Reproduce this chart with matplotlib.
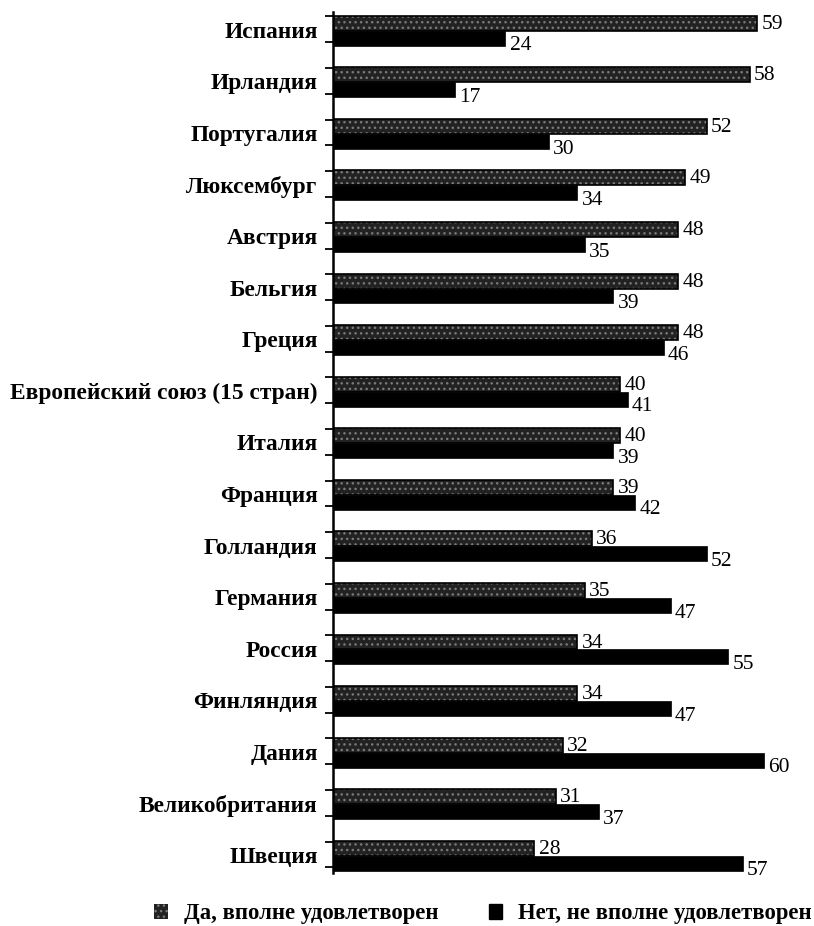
import matplotlib
matplotlib.use("Agg")
import matplotlib.pyplot as plt
from matplotlib.patches import Patch
import numpy as np

countries = ["Испания", "Ирландия", "Португалия", "Люксембург", "Австрия", "Бельгия",
             "Греция", "Европейский союз (15 стран)", "Италия", "Франция", "Голландия",
             "Германия", "Россия", "Финляндия", "Дания", "Великобритания", "Швеция"]
yes_vals = [59, 58, 52, 49, 48, 48, 48, 40, 40, 39, 36, 35, 34, 34, 32, 31, 28]
no_vals = [24, 17, 30, 34, 35, 39, 46, 41, 39, 42, 52, 47, 55, 47, 60, 37, 57]
legend_labels = ["Да, вполне удовлетворен", "Нет, не вполне удовлетворен"]

plt.rcParams['font.family'] = ['Liberation Serif', 'DejaVu Serif']

fig = plt.figure(figsize=(8.14, 9.26), dpi=100)
ax = fig.add_axes([0.409, 0.0572, 0.574, 0.930])

y = np.arange(len(countries))
h = 0.29
yes_c = y - 0.13
no_c = y + 0.16

yes_face = '#222222'
yes_hatch = '#7a7a7a'
ax.barh(yes_c, yes_vals, height=h, color=yes_face, edgecolor=yes_hatch,
        hatch='...', linewidth=0)
ax.barh(yes_c, yes_vals, height=h, fill=False, edgecolor='black', linewidth=1.2)
ax.barh(no_c, no_vals, height=h, color='black', edgecolor='black', linewidth=0.5)

for yc, v in zip(yes_c, yes_vals):
    ax.text(v + 0.6, yc + 0.02, str(v), va='center', ha='left', fontsize=15.5)
for yc, v in zip(no_c, no_vals):
    ax.text(v + 0.6, yc + 0.15, str(v), va='center', ha='left', fontsize=15.5)

ax.set_xlim(0, 65)
ax.set_ylim(len(countries) - 0.65, -0.35)
ax.set_yticks(y)
ax.set_yticklabels(countries, fontsize=16.8, fontweight='bold')
ax.tick_params(axis='y', length=0, pad=11)
ax.set_yticks(np.concatenate([y - 0.26, y + 0.24]), minor=True)
ax.tick_params(axis='y', which='minor', length=6, width=1.3, direction='out')
ax.set_xticks([])
for s in ['top', 'right', 'bottom']:
    ax.spines[s].set_visible(False)
ax.spines['left'].set_linewidth(1.8)

handles = [Patch(facecolor=yes_face, edgecolor=yes_hatch, hatch='...', linewidth=0),
           Patch(facecolor='black', edgecolor='black')]
leg = fig.legend(handles, legend_labels, loc='center left',
                 bbox_to_anchor=(143 / 814, 0.013), ncol=2, frameon=False,
                 handlelength=0.6, handleheight=0.6, borderpad=0,
                 columnspacing=2.2, handletextpad=0.7,
                 prop={'weight': 'bold', 'size': 16.4})

fig.savefig("out.png", dpi=100)
